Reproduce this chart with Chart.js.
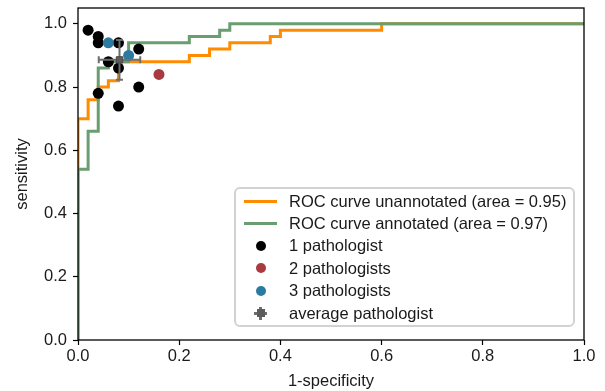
<!DOCTYPE html>
<html>
<head>
<meta charset="utf-8">
<script src="https://cdn.jsdelivr.net/npm/chart.js@4.4.0/dist/chart.umd.min.js"></script>
<style>
  html, body { margin: 0; padding: 0; background: #fff; }
  #wrap { position: relative; width: 605px; height: 391px; font-family: "Liberation Sans", Arial, sans-serif; }
  #legend {
    position: absolute; left: 234px; top: 187px; width: 341px; height: 140px;
    box-sizing: border-box; border: 2px solid #d2d2d2; border-radius: 6px;
    background: rgba(255,255,255,0.85); padding-top: 1px;
  }
  .row { height: 22.4px; display: flex; align-items: center; font-size: 16.5px; color: #1a1a1a; white-space: nowrap; }
  .key { position: relative; width: 53px; height: 22px; flex: none; }
  .key .ln { position: absolute; left: 8px; top: 9.5px; width: 33px; height: 3px; }
  .key .dot { position: absolute; left: 19.5px; top: 6px; width: 10px; height: 10px; border-radius: 50%; }
  .key .hb { position: absolute; left: 18px; top: 9.5px; width: 13px; height: 3px; background: #6e6e6e; }
  .key .vb { position: absolute; left: 23px; top: 4.5px; width: 3px; height: 13px; background: #6e6e6e; }
  .key .sq { position: absolute; left: 20.5px; top: 7px; width: 8px; height: 8px; background: #5c5c5c; }
</style>
</head>
<body>
<div id="wrap">
  <canvas id="rocChart" width="605" height="391"></canvas>
  <div id="legend">
    <div class="row"><div class="key"><span class="ln" style="background:#ff8c00"></span></div>ROC curve unannotated (area = 0.95)</div>
    <div class="row"><div class="key"><span class="ln" style="background:#6a9e70"></span></div>ROC curve annotated (area = 0.97)</div>
    <div class="row"><div class="key"><span class="dot" style="background:#000"></span></div>1 pathologist</div>
    <div class="row"><div class="key"><span class="dot" style="background:#a83a40"></span></div>2 pathologists</div>
    <div class="row"><div class="key"><span class="dot" style="background:#2b7aa1"></span></div>3 pathologists</div>
    <div class="row"><div class="key"><span class="hb"></span><span class="vb"></span><span class="sq"></span></div>average pathologist</div>
  </div>
</div>
<script>
// ROC curve corner points (1-specificity, sensitivity)
const fprUnannotated = [0, 0, 0.02, 0.02, 0.04, 0.04, 0.06, 0.06, 0.08, 0.08, 0.22, 0.22, 0.26, 0.26, 0.30, 0.30, 0.38, 0.38, 0.40, 0.40, 0.60, 0.60, 1.0];
const tprUnannotated = [0, 0.70, 0.70, 0.76, 0.76, 0.80, 0.80, 0.82, 0.82, 0.88, 0.88, 0.90, 0.90, 0.92, 0.92, 0.94, 0.94, 0.96, 0.96, 0.98, 0.98, 1.0, 1.0];
const fprAnnotated = [0, 0, 0.02, 0.02, 0.04, 0.04, 0.06, 0.06, 0.10, 0.10, 0.22, 0.22, 0.28, 0.28, 0.30, 0.30, 1.0];
const tprAnnotated = [0, 0.54, 0.54, 0.66, 0.66, 0.86, 0.86, 0.88, 0.88, 0.94, 0.94, 0.96, 0.96, 0.98, 0.98, 1.0, 1.0];

// pathologists
const onePathFpr = [0.02, 0.04, 0.04, 0.08, 0.12, 0.06, 0.08, 0.04, 0.12, 0.08];
const onePathTpr = [0.98, 0.96, 0.94, 0.94, 0.92, 0.88, 0.86, 0.78, 0.80, 0.74];
const twoPathFpr = [0.16];
const twoPathTpr = [0.84];
const threePathFpr = [0.06, 0.10];
const threePathTpr = [0.94, 0.90];
const avgFpr = [0.082];
const avgTpr = [0.886];
const avgFprErr = [0.041];
const avgTprErr = [0.063];

const xTicks = [0, 0.2, 0.4, 0.6, 0.8, 1.0];
const yTicks = [0, 0.2, 0.4, 0.6, 0.8, 1.0];

const toPts = (xs, ys) => xs.map((x, i) => ({ x: x, y: ys[i] }));
const FONT = { family: '"Liberation Sans", Arial, sans-serif', size: 16.5 };

// error bars for the average pathologist, drawn just before its marker
const errorBars = {
  id: 'errorBars',
  beforeDatasetDraw(chart, args) {
    if (args.meta.label !== 'average pathologist') return;
    const { ctx, scales: { x, y } } = chart;
    ctx.save();
    ctx.strokeStyle = '#6e6e6e';
    ctx.lineWidth = 2;
    avgFpr.forEach((f, i) => {
      const px = x.getPixelForValue(f), py = y.getPixelForValue(avgTpr[i]);
      const x0 = x.getPixelForValue(f - avgFprErr[i]), x1 = x.getPixelForValue(f + avgFprErr[i]);
      const y0 = y.getPixelForValue(avgTpr[i] - avgTprErr[i]), y1 = y.getPixelForValue(avgTpr[i] + avgTprErr[i]);
      const cap = 3.5;
      ctx.beginPath();
      ctx.moveTo(x0, py); ctx.lineTo(x1, py);
      ctx.moveTo(px, y0); ctx.lineTo(px, y1);
      ctx.moveTo(x0, py - cap); ctx.lineTo(x0, py + cap);
      ctx.moveTo(x1, py - cap); ctx.lineTo(x1, py + cap);
      ctx.moveTo(px - cap, y0); ctx.lineTo(px + cap, y0);
      ctx.moveTo(px - cap, y1); ctx.lineTo(px + cap, y1);
      ctx.stroke();
    });
    ctx.restore();
  }
};

// full box round the plot area
const frame = {
  id: 'frame',
  afterDatasetsDraw(chart) {
    const { ctx, chartArea: a } = chart;
    ctx.save();
    ctx.strokeStyle = '#000';
    ctx.lineWidth = 1.3;
    ctx.strokeRect(a.left, a.top, a.right - a.left, a.bottom - a.top);
    ctx.restore();
  }
};

new Chart(document.getElementById('rocChart'), {
  type: 'scatter',
  data: {
    datasets: [
      { label: 'average pathologist', data: toPts(avgFpr, avgTpr), pointStyle: 'rect', pointRadius: 4.5,
        backgroundColor: '#5c5c5c', borderColor: '#4a4a4a', borderWidth: 1, order: 0 },
      { label: '3 pathologists', data: toPts(threePathFpr, threePathTpr), pointRadius: 5.5,
        backgroundColor: '#2b7aa1', borderWidth: 0, order: 1 },
      { label: '2 pathologists', data: toPts(twoPathFpr, twoPathTpr), pointRadius: 5.5,
        backgroundColor: '#a83a40', borderWidth: 0, order: 2 },
      { label: '1 pathologist', data: toPts(onePathFpr, onePathTpr), pointRadius: 5.5,
        backgroundColor: '#000', borderWidth: 0, order: 3 },
      { label: 'ROC curve annotated (area = 0.97)', data: toPts(fprAnnotated, tprAnnotated), showLine: true,
        borderColor: '#6a9e70', borderWidth: 3, pointRadius: 0, tension: 0, order: 4 },
      { label: 'ROC curve unannotated (area = 0.95)', data: toPts(fprUnannotated, tprUnannotated), showLine: true,
        borderColor: '#ff8c00', borderWidth: 3, pointRadius: 0, tension: 0, order: 5 }
    ]
  },
  options: {
    responsive: false,
    animation: false,
    layout: { padding: { left: 13, top: 8, right: 21, bottom: 0 } },
    plugins: { legend: { display: false }, tooltip: { enabled: false } },
    scales: {
      x: {
        type: 'linear', min: 0, max: 1,
        afterBuildTicks: s => { s.ticks = xTicks.map(v => ({ value: v })); },
        afterFit: s => { s.height = 51; },
        ticks: { callback: v => v.toFixed(1), font: FONT, color: '#1a1a1a', padding: 2, maxRotation: 0 },
        grid: { drawOnChartArea: false, drawTicks: true, tickLength: 5, color: '#000', tickWidth: 1.2 },
        border: { display: false },
        title: { display: true, text: '1-specificity', font: FONT, color: '#1a1a1a', padding: 0 }
      },
      y: {
        type: 'linear', min: 0, max: 1.05,
        afterBuildTicks: s => { s.ticks = yTicks.map(v => ({ value: v })); },
        afterFit: s => { s.width = 65; s.paddingTop = 0; s.paddingBottom = 0; },
        ticks: { callback: v => v.toFixed(1), font: FONT, color: '#1a1a1a', padding: 6 },
        grid: { drawOnChartArea: false, drawTicks: true, tickLength: 5, color: '#000', tickWidth: 1.2 },
        border: { display: false },
        title: { display: true, text: 'sensitivity', font: FONT, color: '#1a1a1a', padding: 0 }
      }
    }
  },
  plugins: [errorBars, frame]
});
</script>
</body>
</html>
